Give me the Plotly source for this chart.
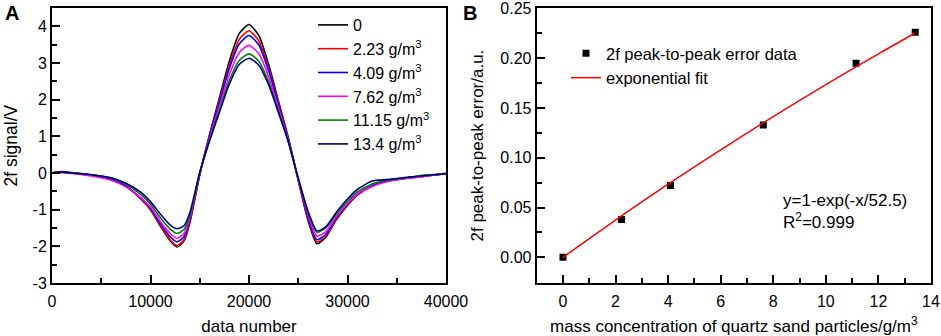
import plotly.graph_objects as go

# ---------------- Panel A data ----------------
data_number = [0, 1000, 2000, 4000, 6000, 7500, 9000, 10000, 11000, 12000, 12700, 13400, 14000,
               15000, 16000, 17000, 18000, 19000, 20000, 21000, 22000, 23000, 24000, 25000, 26000,
               26900, 27800, 28800, 29700, 31000, 32500, 34000, 36000, 38000, 40000]

sig_0 = [0.00, 0.04, 0.01, -0.05, -0.15, -0.35, -0.70, -1.00, -1.45, -1.85, -2.02, -1.85, -1.35,
         -0.05, 1.05, 2.05, 3.05, 3.80, 4.05, 3.75, 2.95, 1.95, 0.95, -0.20, -1.30,
         -1.93, -1.75, -1.30, -0.98, -0.60, -0.35, -0.22, -0.13, -0.07, -0.02]
sig_223 = [0.00, 0.03, 0.00, -0.06, -0.16, -0.36, -0.70, -1.00, -1.43, -1.82, -1.98, -1.82, -1.32,
           -0.04, 1.03, 1.98, 2.93, 3.64, 3.88, 3.60, 2.85, 1.90, 0.93, -0.20, -1.27,
           -1.88, -1.72, -1.28, -0.96, -0.60, -0.36, -0.22, -0.14, -0.08, -0.02]
sig_409 = [0.00, 0.02, 0.00, -0.06, -0.17, -0.36, -0.68, -0.96, -1.38, -1.74, -1.88, -1.74, -1.27,
           -0.03, 1.00, 1.92, 2.85, 3.52, 3.75, 3.49, 2.78, 1.85, 0.92, -0.18, -1.22,
           -1.82, -1.67, -1.25, -0.94, -0.58, -0.35, -0.22, -0.14, -0.08, -0.02]
sig_762 = [0.00, 0.01, -0.01, -0.08, -0.20, -0.38, -0.67, -0.93, -1.32, -1.65, -1.78, -1.65, -1.22,
           -0.02, 0.95, 1.82, 2.68, 3.28, 3.48, 3.25, 2.62, 1.76, 0.88, -0.17, -1.15,
           -1.72, -1.60, -1.22, -0.92, -0.58, -0.37, -0.24, -0.15, -0.09, 0.00]
sig_1115 = [0.00, 0.02, 0.00, -0.05, -0.14, -0.30, -0.58, -0.85, -1.22, -1.53, -1.65, -1.54, -1.15,
            0.00, 0.90, 1.72, 2.52, 3.07, 3.25, 3.05, 2.48, 1.68, 0.85, -0.15, -1.08,
            -1.62, -1.50, -1.15, -0.86, -0.52, -0.30, -0.20, -0.13, -0.05, -0.02]
sig_134 = [0.00, 0.03, 0.00, -0.05, -0.13, -0.28, -0.52, -0.78, -1.12, -1.42, -1.52, -1.44, -1.08,
           0.02, 0.88, 1.66, 2.42, 2.96, 3.13, 2.94, 2.40, 1.64, 0.84, -0.14, -1.05,
           -1.58, -1.47, -1.10, -0.80, -0.45, -0.22, -0.18, -0.12, -0.07, -0.02]

series_names = ["0", "2.23 g/m<sup>3</sup>", "4.09 g/m<sup>3</sup>", "7.62 g/m<sup>3</sup>",
                "11.15 g/m<sup>3</sup>", "13.4 g/m<sup>3</sup>"]
series_values = [sig_0, sig_223, sig_409, sig_762, sig_1115, sig_134]
series_colors = ["#000000", "#ff0000", "#0000ff", "#ff00ff", "#008000", "#000080"]

a_xticks = [0, 10000, 20000, 30000, 40000]
a_yticks = [-3, -2, -1, 0, 1, 2, 3, 4]
a_yticktext = ["-3", "-2", "-1", "0", "1", "2", "3", "4"]

# ---------------- Panel B data ----------------
concentration = [0, 2.23, 4.09, 7.62, 11.15, 13.4]
pp_error = [0.000, 0.038, 0.072, 0.133, 0.195, 0.226]
fit_x = [0, 2, 4, 6, 8, 10, 12, 13.4]
fit_y = [0.000, 0.0374, 0.0734, 0.1079, 0.1413, 0.1734, 0.2043, 0.2253]

b_xticks = [0, 2, 4, 6, 8, 10, 12, 14]
b_yticks = [0.00, 0.05, 0.10, 0.15, 0.20, 0.25]

FONT = "Liberation Sans, Arial, sans-serif"
W, H = 941, 336

fig = go.Figure()

for name, vals, col in zip(series_names, series_values, series_colors):
    fig.add_trace(go.Scatter(x=data_number, y=vals, mode="lines", name=name,
                             line=dict(color=col, width=1.6, shape="spline", smoothing=0.6),
                             xaxis="x", yaxis="y", legend="legend", legendgroup=name))

fig.add_trace(go.Scatter(x=concentration, y=pp_error, mode="markers",
                         name="2f peak-to-peak error data",
                         marker=dict(symbol="square", size=7, color="black"),
                         xaxis="x2", yaxis="y2", legend="legend2", legendgroup="d"))
fig.add_trace(go.Scatter(x=fit_x, y=fit_y, mode="lines", name="exponential fit",
                         line=dict(color="#ff0000", width=1.5, shape="spline"),
                         xaxis="x2", yaxis="y2", legend="legend2", legendgroup="f"))


def px_x(p):
    return p / W


def px_y(p):
    return 1 - p / H


axis_common = dict(showline=True, linecolor="black", linewidth=2, mirror=True,
                   ticks="inside", ticklen=8, tickwidth=2, tickcolor="black",
                   showgrid=False, zeroline=False,
                   tickfont=dict(family=FONT, size=16, color="black"))

fig.update_layout(
    width=W, height=H,
    margin=dict(l=0, r=0, t=0, b=0, autoexpand=False),
    paper_bgcolor="white", plot_bgcolor="white",
    font=dict(family=FONT, size=16, color="black"),
    xaxis=dict(domain=[px_x(52), px_x(446)], range=[0, 40000], tickvals=a_xticks, tickformat="d",
               ticklabelstandoff=3,
               minor=dict(ticks="inside", ticklen=5, tickwidth=2, dtick=5000, tickcolor="black"),
               title=dict(text="data number", standoff=13, font=dict(size=17)),
               anchor="y", **axis_common),
    yaxis=dict(domain=[px_y(283), px_y(8)], range=[-3, 4.5], tickvals=a_yticks, ticktext=a_yticktext,
               minor=dict(ticks="inside", ticklen=5, tickwidth=2, dtick=0.5, tickcolor="black"),
               anchor="x", **axis_common),
    xaxis2=dict(domain=[px_x(536.7), px_x(931)], range=[-1, 14], tickvals=b_xticks,
                ticklabelstandoff=3,
                minor=dict(ticks="inside", ticklen=5, tickwidth=2, dtick=1, tickcolor="black"),
                title=dict(text="mass concentration of quartz sand particles/g/m<sup>3</sup>", standoff=13,
                           font=dict(size=17)),
                anchor="y2", **axis_common),
    yaxis2=dict(domain=[px_y(283), px_y(8)], range=[-0.0258, 0.2504],
                tickvals=b_yticks, tickformat=".2f",
                minor=dict(ticks="inside", ticklen=5, tickwidth=2, dtick=0.025, tickcolor="black"),
                anchor="x2", **axis_common),
    legend=dict(x=px_x(313), y=px_y(8), xanchor="left", yanchor="top", bgcolor="rgba(0,0,0,0)",
                font=dict(family=FONT, size=16), tracegroupgap=0, itemwidth=30),
    legend2=dict(x=px_x(566), y=px_y(36), xanchor="left", yanchor="top", bgcolor="rgba(0,0,0,0)",
                 font=dict(family=FONT, size=16.5), tracegroupgap=0, itemwidth=30),
    showlegend=True,
)

# y-axis titles
fig.add_annotation(text="2f signal/V", x=px_x(10), y=px_y(145.5), xref="paper", yref="paper",
                   xanchor="center", yanchor="middle", textangle=-90, showarrow=False,
                   font=dict(size=17.5, family=FONT))
fig.add_annotation(text="2f peak-to-peak error/a.u.", x=px_x(477), y=px_y(145.5), xref="paper",
                   yref="paper", xanchor="center", yanchor="middle", textangle=-90, showarrow=False,
                   font=dict(size=17, family=FONT))

# panel labels
fig.add_annotation(text="<b>A</b>", x=px_x(12), y=px_y(13), xref="paper", yref="paper",
                   xanchor="center", yanchor="middle", showarrow=False, font=dict(size=20, family=FONT))
fig.add_annotation(text="<b>B</b>", x=px_x(470), y=px_y(13), xref="paper", yref="paper",
                   xanchor="center", yanchor="middle", showarrow=False, font=dict(size=20, family=FONT))

# fit equation
fig.add_annotation(text="y=1-exp(-x/52.5)<br>R<sup>2</sup>=0.999", x=px_x(781), y=px_y(189),
                   xref="paper", yref="paper", xanchor="left", yanchor="top", align="left",
                   showarrow=False, font=dict(size=17, family=FONT))

fig.write_html(
    "out.html",
    config={"displayModeBar": False},
    post_script="document.body.style.margin='0';document.body.style.overflow='hidden';"
                "document.documentElement.style.overflow='hidden';",
)
